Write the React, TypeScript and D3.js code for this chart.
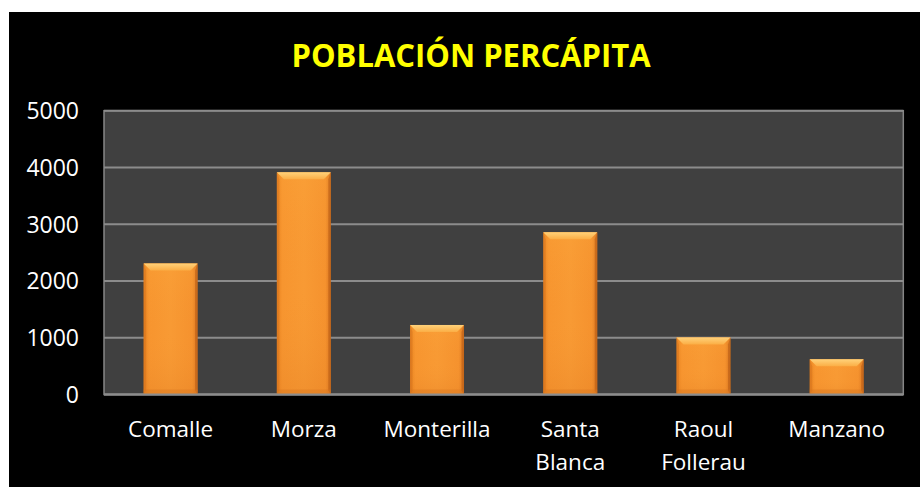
import React from "react";
import * as d3 from "d3";

const categories = ["Comalle", "Morza", "Monterilla", "Santa Blanca", "Raoul Follerau", "Manzano"];
const categoryLines = [["Comalle"], ["Morza"], ["Monterilla"], ["Santa", "Blanca"], ["Raoul", "Follerau"], ["Manzano"]];
const values = [2310, 3915, 1225, 2860, 1005, 620];
const yTicks = [0, 1000, 2000, 3000, 4000, 5000];
const title = "POBLACIÓN PERCÁPITA";

const W = 920;
const H = 487;
const plot = { left: 104, right: 903.3, top: 110.7, bottom: 394.5 };

export default function App() {
  const x = d3
    .scaleBand<string>()
    .domain(categories)
    .range([plot.left, plot.right])
    .paddingInner(0.595)
    .paddingOuter(0.2975);
  const y = d3.scaleLinear().domain([0, 5000]).range([plot.bottom, plot.top]);
  const bw = x.bandwidth();
  const bev = 7;

  return (
    <svg width={W} height={H} style={{ position: "absolute", left: 0, top: 0, display: "block" }}>
      <defs>
        <linearGradient id="barH" x1="0" x2="1" y1="0" y2="0">
          <stop offset="0" stopColor="#E8821F" />
          <stop offset="0.1" stopColor="#F7952F" />
          <stop offset="0.5" stopColor="#F89A34" />
          <stop offset="0.9" stopColor="#F5922E" />
          <stop offset="1" stopColor="#D87420" />
        </linearGradient>
        <linearGradient id="barV" x1="0" x2="0" y1="0" y2="1">
          <stop offset="0" stopColor="#FFB040" stopOpacity="0.2" />
          <stop offset="0.5" stopColor="#F89A34" stopOpacity="0" />
          <stop offset="1" stopColor="#E07C22" stopOpacity="0.3" />
        </linearGradient>
        <linearGradient id="bevTop" x1="0" x2="0" y1="0" y2="1">
          <stop offset="0" stopColor="#FFD27A" />
          <stop offset="1" stopColor="#FBAE45" />
        </linearGradient>
      </defs>
      <rect x={9} y={12} width={W - 9} height={H - 12} fill="#000000" />
      <text
        x={471}
        y={67.3}
        textAnchor="middle"
        fill="#FFFF00"
        fontFamily="'Open Sans', sans-serif"
        fontWeight="bold"
        fontSize={32}
        textLength={359}
        lengthAdjust="spacingAndGlyphs"
      >
        {title}
      </text>
      <rect
        x={plot.left}
        y={plot.top}
        width={plot.right - plot.left}
        height={plot.bottom - plot.top}
        fill="#404040"
        stroke="#868686"
        strokeWidth={1.5}
      />
      {yTicks.map((t) => (
        <g key={t}>
          <line x1={plot.left} x2={plot.right} y1={y(t)} y2={y(t)} stroke="#8C8C8C" strokeWidth={2} />
          <text
            x={79}
            y={y(t)}
            dy="0.36em"
            textAnchor="end"
            fill="#FFFFFF"
            fontFamily="'Open Sans', sans-serif"
            fontSize={23}
          >
            {t}
          </text>
        </g>
      ))}
      {categories.map((c, i) => {
        const x0 = x(c) as number;
        const y0 = y(values[i]);
        const h = plot.bottom - y0;
        return (
          <g key={c}>
            <rect x={x0} y={y0} width={bw} height={h} fill="url(#barH)" />
            <rect x={x0} y={y0} width={bw} height={h} fill="url(#barV)" />
            <path
              d={`M${x0},${y0} L${x0 + bw},${y0} L${x0 + bw - bev},${y0 + bev} L${x0 + bev},${y0 + bev} Z`}
              fill="url(#bevTop)"
            />
            <path
              d={`M${x0},${y0} L${x0 + 2.5},${y0 + bev} L${x0 + 2.5},${plot.bottom - 4} L${x0},${plot.bottom} Z`}
              fill="#D06E1C"
              opacity={0.45}
            />
            <path
              d={`M${x0 + bw},${y0} L${x0 + bw - 2.5},${y0 + bev} L${x0 + bw - 2.5},${plot.bottom - 4} L${x0 + bw},${plot.bottom} Z`}
              fill="#B55A14"
              opacity={0.55}
            />
            <rect x={x0} y={plot.bottom - 5} width={bw} height={5} fill="#D8761F" opacity={0.4} />
          </g>
        );
      })}
      <line x1={plot.left} x2={plot.right} y1={plot.bottom} y2={plot.bottom} stroke="#8C8C8C" strokeWidth={2} />
      {categories.map((c, i) => {
        const cx = (x(c) as number) + bw / 2;
        return (
          <text
            key={c}
            x={cx}
            y={437.3}
            textAnchor="middle"
            fill="#FFFFFF"
            fontFamily="'Open Sans', sans-serif"
            fontSize={22.5}
          >
            {categoryLines[i].map((ln, j) => (
              <tspan key={j} x={cx} y={437.3 + j * 32.7}>
                {ln}
              </tspan>
            ))}
          </text>
        );
      })}
    </svg>
  );
}
